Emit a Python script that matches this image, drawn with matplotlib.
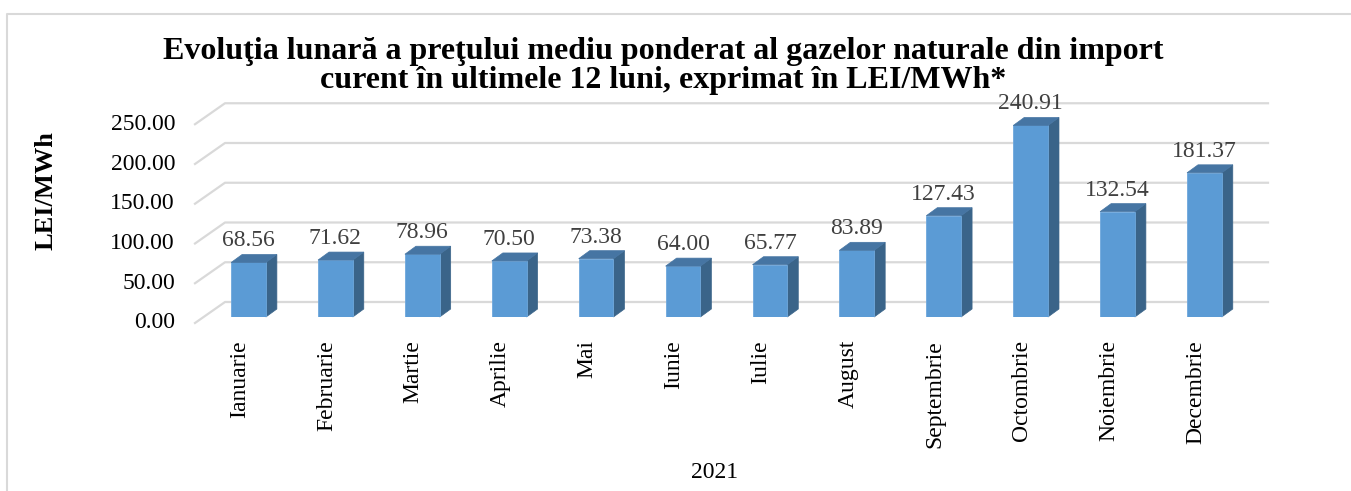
import matplotlib

matplotlib.use("Agg")

import matplotlib.pyplot as plt
from matplotlib.lines import Line2D
from matplotlib.patches import Polygon
import numpy as np


MONTHS = ["Ianuarie", "Februarie", "Martie", "Aprilie", "Mai", "Iunie",
          "Iulie", "August", "Septembrie", "Octombrie", "Noiembrie", "Decembrie"]
PRICES = [68.56, 71.62, 78.96, 70.50, 73.38, 64.00,
          65.77, 83.89, 127.43, 240.91, 132.54, 181.37]
Y_TICKS = [0, 50, 100, 150, 200, 250]
YEAR = "2021"
TITLE_LINES = ["Evoluţia lunară a preţului mediu ponderat al gazelor naturale din import",
               "curent în ultimele 12 luni, exprimat în LEI/MWh*"]


def main() -> None:
    W, H = 1351, 491
    colors = {
        "front": "#5B9BD5",
        "side": "#3A6489",
        "top": "#4675A3",
        "grid": "#D9D9D9",
        "label": "#404040",
        "frame": "#D9D9D9",
    }

    plt.rcParams["font.family"] = ["Liberation Serif", "DejaVu Serif"]

    fig = plt.figure(figsize=(W / 100, H / 100), dpi=100)

    # front plane of the bars, in pixels
    x0_px, step_px = 248.5, 86.9
    zero_px, px_per_unit = 317.0, 0.795
    left_px, right_px, top_px = 204.0, 1247.0, 90.0
    xlim = ((left_px - x0_px) / step_px, (right_px - x0_px) / step_px)
    ylim = (0.0, (zero_px - top_px) / px_per_unit)
    ax = fig.add_axes([left_px / W, (H - zero_px) / H,
                       (right_px - left_px) / W, (zero_px - top_px) / H])
    ax.set_xlim(*xlim)
    ax.set_ylim(*ylim)
    ax.axis("off")

    ux = 1.0 / step_px      # data units per pixel along x
    uy = 1.0 / px_per_unit  # data units per pixel along y

    # depth offsets (px) relative to the bar front plane
    floor_dx, floor_dy = -9, -6
    back_dx, back_dy = 21, 15
    bar_dx, bar_dy = 11, 8
    width = 0.40

    # gridlines: diagonal on left wall then across the back wall
    for v in Y_TICKS:
        xf = xlim[0] + floor_dx * ux
        yf = v + floor_dy * uy
        xb = xlim[0] + back_dx * ux
        yb = v + back_dy * uy
        ax.add_line(Line2D([xf, xb, xlim[1] + back_dx * ux], [yf, yb, yb],
                           color=colors["grid"], linewidth=1.6, clip_on=False, zorder=1))
        ax.text(xf - 20 * ux, yf, f"{v:.2f}", ha="right", va="center",
                fontsize=17, color="black")

    x = np.arange(len(MONTHS))
    ax.bar(x, PRICES, width, color=colors["front"], edgecolor="#6FA8DC",
           linewidth=0.6, zorder=3)

    for xi, v in zip(x, PRICES):
        xr = xi + width / 2
        xl = xi - width / 2
        side = [(xr, 0), (xr + bar_dx * ux, bar_dy * uy),
                (xr + bar_dx * ux, v + bar_dy * uy), (xr, v)]
        top = [(xl, v), (xr, v), (xr + bar_dx * ux, v + bar_dy * uy),
               (xl + bar_dx * ux, v + bar_dy * uy)]
        ax.add_patch(Polygon(side, closed=True, facecolor=colors["side"],
                             edgecolor=colors["side"], linewidth=0.5, zorder=2, clip_on=False))
        ax.add_patch(Polygon(top, closed=True, facecolor=colors["top"],
                             edgecolor=colors["top"], linewidth=0.5, zorder=4, clip_on=False))
        ax.text(xi, v + (bar_dy + 3) * uy, f"{v:.2f}", ha="center", va="bottom",
                fontsize=17, color=colors["label"], zorder=5)

    for xi, name in zip(x, MONTHS):
        ax.text(xi + floor_dx * ux, -23 * uy, name, rotation=90, ha="center",
                va="top", fontsize=17, color="black")

    fig.text(715 / W, 1 - 472 / H, YEAR, ha="center", va="center", fontsize=17)
    fig.text(46 / W, 1 - 191 / H, "LEI/MWh", rotation=90, ha="center", va="center",
             fontsize=19, fontweight="bold")
    for line, base_px in zip(TITLE_LINES, [59, 88]):
        fig.text(663 / W, 1 - base_px / H, line, ha="center", va="baseline",
                 fontsize=23, fontweight="bold")

    # chart frame (top and left edges visible)
    fig.add_artist(Line2D([7 / W, 7 / W, 1.0], [0.0, 1 - 14 / H, 1 - 14 / H],
                          transform=fig.transFigure, color=colors["frame"], linewidth=1.5))

    fig.savefig("out.png", dpi=100)


if __name__ == "__main__":
    main()
